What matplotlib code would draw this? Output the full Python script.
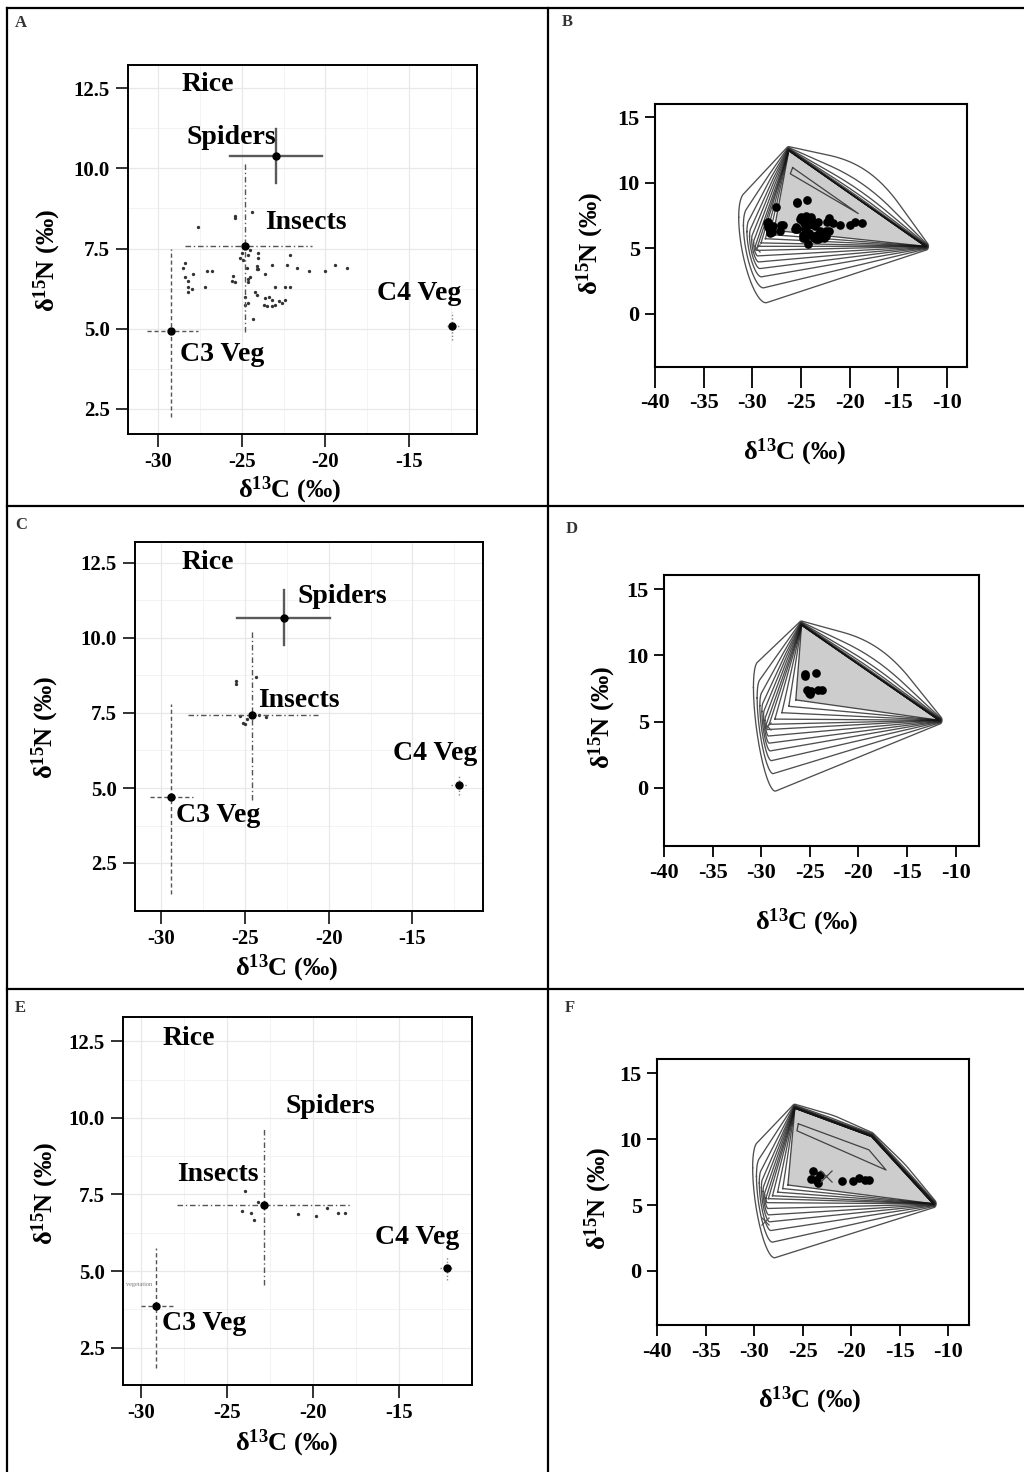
import numpy as np
import matplotlib
matplotlib.use('Agg')
import matplotlib.pyplot as plt
from matplotlib.lines import Line2D

plt.rcParams['font.family'] = ['Liberation Serif', 'DejaVu Serif']
plt.rcParams['font.weight'] = 'bold'
plt.rcParams['mathtext.fontset'] = 'custom'
plt.rcParams['mathtext.rm'] = 'Liberation Serif:bold'
plt.rcParams['mathtext.it'] = 'Liberation Serif:italic:bold'
plt.rcParams['mathtext.bf'] = 'Liberation Serif:bold'

W, H = 1024, 1472

# ---------------- data ----------------
# insects, site 1 (panels A and B)
ins1_x = [-25.4, -25.4, -24.4, -27.6, -28.4, -28.5, -28.4, -28.2, -28.2, -28.0, -28.2,
          -27.9, -27.1, -26.8, -27.2, -25.6, -25.5, -25.4, -25.0, -25.1, -24.9, -24.6,
          -24.5, -24.7, -24.6, -24.5, -24.6, -24.1, -24.1, -24.0, -24.0, -24.0, -23.6,
          -23.2, -24.8, -24.8, -24.6, -24.2, -24.1, -23.6, -23.4, -23.2, -23.7, -23.5,
          -23.2, -23.0, -22.8, -22.6, -22.4, -23.0, -22.4, -22.1, -22.3, -22.1, -21.7,
          -21.0, -20.0, -19.4, -18.7, -24.3]
ins1_y = [8.5, 8.45, 8.65, 8.18, 7.04, 6.9, 6.6, 6.5, 6.3, 6.25, 6.15,
          6.7, 6.8, 6.8, 6.3, 6.5, 6.65, 6.45, 7.35, 7.2, 7.15, 7.3,
          7.45, 6.9, 6.55, 6.6, 6.45, 6.95, 6.85, 6.85, 7.35, 7.2, 6.7,
          7.0, 6.0, 5.75, 5.8, 6.15, 6.05, 5.95, 6.0, 5.9, 5.75, 5.7,
          5.72, 5.75, 5.85, 5.8, 5.9, 6.3, 6.3, 6.3, 7.0, 7.3, 6.9,
          6.8, 6.8, 7.0, 6.9, 5.3]
# insects, site 2 (panels C and D)
ins2_x = [-25.5, -25.5, -24.35, -25.1, -25.0, -24.85, -25.3, -24.15, -23.75]
ins2_y = [8.58, 8.48, 8.7, 7.15, 7.12, 7.3, 7.4, 7.42, 7.38]
# insects, site 3 (panels E and F)
ins3_x = [-23.95, -24.1, -23.45, -23.2, -23.6, -20.9, -19.85, -19.2, -18.55, -18.15]
ins3_y = [7.6, 6.95, 6.68, 7.25, 6.9, 6.85, 6.8, 7.05, 6.88, 6.9]

groups = ['Spiders', 'Insects', 'C3 Veg', 'C4 Veg']
# mean (d13C, d15N) and error bar ends per group; None = not shown
A_mean = [(-22.97, 10.39), (-24.81, 7.58), (-29.22, 4.93), (-12.41, 5.09)]
A_xbar = [(-25.7, -20.23), (-28.39, -20.82), (-30.67, -27.59), (-12.76, -11.87)]
A_ybar = [(9.53, 11.24), (4.91, 10.2), (2.26, 7.5), (4.65, 5.53)]
C_mean = [(-22.67, 10.67), (-24.6, 7.42), (-29.4, 4.7), (-12.22, 5.09)]
C_xbar = [(-25.49, -19.93), (-28.37, -20.63), (-30.66, -28.07), (-12.7, -11.75)]
C_ybar = [(9.76, 11.59), (4.59, 10.26), (1.48, 7.81), (4.76, 5.42)]
E_mean = [None, (-22.83, 7.15), (-29.09, 3.86), (-12.23, 5.11)]
E_xbar = [None, (-27.92, -17.75), (-29.96, -28.0), (-12.6, -11.8)]
E_ybar = [None, (4.54, 9.65), (1.83, 5.74), (4.7, 5.5)]

label_names = ['Rice', 'Spiders', 'Insects', 'C4 Veg', 'C3 Veg']
A_label_xy = [(-28.6, 12.6), (-28.3, 10.97), (-23.6, 8.3), (-16.9, 6.1), (-28.7, 4.2)]
C_label_xy = [(-28.77, 12.53), (-21.85, 11.37), (-24.2, 7.92), (-16.15, 6.15), (-29.1, 4.09)]
E_label_xy = [(-28.76, 12.6), (-21.57, 10.36), (-27.87, 8.16), (-16.4, 6.1), (-28.76, 3.3)]

# mixing polygon sources (TEF corrected): C3 first, then the upper chain
B_src = [(-29.6, 5.05), (-26.25, 12.45), (-12.2, 5.15)]
D_src = [(-29.4, 4.64), (-25.85, 12.3), (-11.7, 5.1)]
F_src = [(-28.7, 5.4), (-25.8, 12.35), (-17.9, 10.2), (-11.55, 5.1)]
# C3 source marks (x) drawn in the mixing plots
B_c3_mark = (-29.6, 5.05)
D_c3_mark = (-29.38, 4.64)
F_c3_mark = (-28.86, 3.82)
F_mix_mark = (-22.58, 7.23)
# C3 source spread (sd x, sd y, correlation)
B_c3_sd = (1.8, 4.2, -0.55)
D_c3_sd = (1.4, 4.9, -0.6)
F_c3_sd = (1.45, 4.4, -0.55)
# outward spread of the polygon edges at the outermost level (left edge, upper edges)
B_edge_spread = (1.8, 2.3)
D_edge_spread = (1.8, 2.0)
F_edge_spread = (1.4, 0.5)
# probability contour levels (negative = inside the mean polygon)
mix_levels = [-0.66, -0.5, -0.34, -0.18, -0.05, 0.05, 0.15, 0.26, 0.38, 0.53, 0.73, 1.0]


# ---------------- helpers ----------------
def convex_hull(P):
    P = np.unique(np.round(P, 6), axis=0)

    def cross(o, a, b):
        return (a[0] - o[0]) * (b[1] - o[1]) - (a[1] - o[1]) * (b[0] - o[0])
    lower, upper = [], []
    for p in P:
        while len(lower) >= 2 and cross(lower[-2], lower[-1], p) <= 0:
            lower.pop()
        lower.append(p)
    for p in P[::-1]:
        while len(upper) >= 2 and cross(upper[-2], upper[-1], p) <= 0:
            upper.pop()
        upper.append(p)
    h = np.array(lower[:-1] + upper[:-1])
    return np.vstack([h, h[:1]])


def edge_bulge(a, b, amount):
    t = np.linspace(0, 1, 40)
    d = b - a
    n = np.array([-d[1], d[0]]) / np.hypot(*d)
    return a + np.outer(t, d) + np.outer(amount * np.sin(np.pi * t), n)


def mix_contour(src, k, sd, spread, anchor_w, gain, cmean, tip=0.3):
    L = np.array(src[0])
    chain = np.array(src[1:])
    th = np.linspace(0, 2 * np.pi, 120, endpoint=False)
    kp = max(k, 0.0)
    pts = [v + kp * tip * np.c_[np.cos(th), np.sin(th)] for v in chain]
    sx, sy, rho = sd
    if k < 0:
        anchor = cmean + anchor_w * (chain[0] - cmean)
        pts.append((L + (-k) * gain * (anchor - L))[None])
    else:
        ex = sx * np.cos(th)
        ey = sy * (rho * np.cos(th) + np.sqrt(1 - rho ** 2) * np.sin(th))
        pts.append(L + k * np.c_[ex, ey])
        pts.append(edge_bulge(L, chain[0], spread[0] * kp))
    for a, b in zip(chain[:-1], chain[1:]):
        pts.append(edge_bulge(a, b, spread[1] * kp ** 2))
    return convex_hull(np.vstack(pts))


def sliver(src, s0, s1, d0, d1):
    chain = np.array(src[1:])
    seg = np.diff(chain, axis=0)
    lens = np.hypot(seg[:, 0], seg[:, 1])
    cum = np.r_[0, np.cumsum(lens)]

    def at(s, d):
        pos = s * cum[-1]
        i = int(np.clip(np.searchsorted(cum, pos) - 1, 0, len(seg) - 1))
        u = seg[i] / lens[i]
        return chain[i] + (pos - cum[i]) * u + d * np.array([u[1], -u[0]])
    ss = [s0] + [c / cum[-1] for c in cum[1:-1] if s0 < c / cum[-1] < s1] + [s1]
    pts = [at(s, d0) for s in ss] + [at(s0, d1), at(s0, d0)]
    return np.array(pts)


fig = plt.figure(figsize=(W / 100, H / 100), dpi=100)


def add_ax(l, r, t, b):
    return fig.add_axes([l / W, 1 - b / H, (r - l) / W, (b - t) / H])


def ftext(x, y, s, **kw):
    fig.text(x / W, 1 - y / H, s, **kw)


styles = {'Spiders': dict(ls='-', color='#5a5a5a', lw=1.7),
          'Insects': dict(ls=(0, (4, 2, 1, 2)), color='#555555', lw=1.0),
          'C3 Veg': dict(ls=(0, (3, 2)), color='#555555', lw=1.0),
          'C4 Veg': dict(ls=(0, (1, 1.5)), color='#888888', lw=1.0)}


def left_panel(box, xlim, ylim, means, xbars, ybars, ins_x, ins_y, label_xy):
    ax = add_ax(*box)
    ax.set_xlim(*xlim)
    ax.set_ylim(*ylim)
    for v in [-27.5, -22.5, -17.5, -12.5]:
        ax.axvline(v, color='#f3f3f3', lw=0.7, zorder=0)
    for v in [3.75, 6.25, 8.75, 11.25]:
        ax.axhline(v, color='#f3f3f3', lw=0.7, zorder=0)
    for v in [-30, -25, -20, -15]:
        ax.axvline(v, color='#e8e8e8', lw=0.9, zorder=0)
    for v in [2.5, 5, 7.5, 10, 12.5]:
        ax.axhline(v, color='#e8e8e8', lw=0.9, zorder=0)
    ax.plot(ins_x, ins_y, 'o', ms=2.4, color='#333333', mec='none', zorder=2)
    for g, m, xb, yb in zip(groups, means, xbars, ybars):
        if m is None:
            continue
        ax.plot(xb, [m[1], m[1]], zorder=3, **styles[g])
        ax.plot([m[0], m[0]], yb, zorder=3, **styles[g])
        ax.plot(*m, 'o', ms=5, color='black', zorder=4)
    for name, (x, y) in zip(label_names, label_xy):
        ax.text(x, y, name, fontsize=20, fontweight='bold', ha='left', va='center',
                color='black', zorder=5)
    ax.set_xticks([-30, -25, -20, -15])
    ax.set_xticklabels(['-30', '-25', '-20', '-15'])
    ax.set_yticks([2.5, 5, 7.5, 10, 12.5])
    ax.set_yticklabels(['2.5', '5.0', '7.5', '10.0', '12.5'])
    ax.tick_params(length=9, width=1.3, labelsize=15, pad=4, color='#222222')
    for sp in ax.spines.values():
        sp.set_linewidth(1.4)
    return ax


def right_panel(box, xlim, ylim, src, sd, spread, anchor_w, gain, cons_x, cons_y,
                c3_mark, slv=None, xtick_len=8, extra_mark=None):
    ax = add_ax(*box)
    ax.set_xlim(*xlim)
    ax.set_ylim(*ylim)
    cmean = np.array([np.mean(cons_x), np.mean(cons_y)])
    polys = [mix_contour(src, k, sd, spread, anchor_w, gain, cmean) for k in mix_levels]
    ax.fill(polys[0][:, 0], polys[0][:, 1], color='#cdcdcd', zorder=1, lw=0)
    for p in polys:
        ax.plot(p[:, 0], p[:, 1], color='#141414', lw=0.95, alpha=0.75, zorder=2)
    if slv is not None:
        s = sliver(src, *slv)
        ax.plot(s[:, 0], s[:, 1], color='#1e1e1e', lw=0.9, alpha=0.8, zorder=2)
    ax.plot(cons_x, cons_y, 'o', ms=5.2, color='black', zorder=4)
    ax.plot(*c3_mark, 'x', ms=6, mew=0.9, color='#555555', zorder=3)
    if extra_mark is not None:
        ax.plot(*extra_mark, 'x', ms=8, mew=0.9, color='#444444', zorder=5)
    ax.set_xticks([-40, -35, -30, -25, -20, -15, -10])
    ax.set_xticklabels(['-40', '-35', '-30', '-25', '-20', '-15', '-10'])
    ax.set_yticks([0, 5, 10, 15])
    ax.tick_params(axis='x', length=xtick_len, width=1.3, labelsize=16, pad=4)
    ax.tick_params(axis='y', length=7, width=1.3, labelsize=16, pad=4)
    for sp in ax.spines.values():
        sp.set_linewidth(1.5)
    return ax


left_panel((128, 477, 65, 434), (-31.8, -10.94), (1.72, 13.22),
           A_mean, A_xbar, A_ybar, ins1_x, ins1_y, A_label_xy)
left_panel((135, 483, 542, 911), (-31.55, -10.79), (0.9, 13.2),
           C_mean, C_xbar, C_ybar, ins2_x, ins2_y, C_label_xy)
axE = left_panel((123, 472, 1017, 1385), (-31.03, -10.77), (1.28, 13.29),
                 E_mean, E_xbar, E_ybar, ins3_x, ins3_y, E_label_xy)
axE.text(-30.87, 4.57, 'vegetation', fontsize=4.5, fontweight='normal',
         color='#777777', ha='left', va='center')

right_panel((655, 967, 104, 367), (-40, -7.94), (-4.05, 16.0), B_src, B_c3_sd,
            B_edge_spread, 0.3, 0.6, ins1_x, ins1_y, B_c3_mark,
            slv=(0.06, 0.54, 0.97, 1.5), xtick_len=15)
right_panel((664, 979, 575, 846), (-40, -7.6), (-4.41, 16.08), D_src, D_c3_sd,
            D_edge_spread, 0.0, 0.98, ins2_x, ins2_y, D_c3_mark)
right_panel((657, 969, 1059, 1325), (-40, -7.87), (-4.1, 16.08), F_src, F_c3_sd,
            F_edge_spread, 0.28, 0.55, ins3_x, ins3_y, F_c3_mark,
            slv=(0.04, 0.67, 1.05, 1.6), extra_mark=F_mix_mark)

# axis titles
xl = 'δ$^{13}$C (‰)'
yl = 'δ$^{15}$N (‰)'
for (x, y) in [(290, 490), (287, 968), (287, 1443), (795, 452), (807, 922), (810, 1400)]:
    ftext(x, y, xl, fontsize=19, fontweight='bold', ha='center', va='center')
for (x, y) in [(47, 260), (45, 727), (45, 1193), (590, 243), (602, 717), (598, 1198)]:
    ftext(x, y, yl, fontsize=19, fontweight='bold', ha='center', va='center', rotation=90)

# panel letters
for s, (x, y) in zip('ABCDEF', [(21, 23), (567, 22), (21, 525), (572, 529),
                                (20, 1008), (570, 1008)]):
    ftext(x, y, s, fontsize=12, fontweight='bold', ha='center', va='center', color='#333333')

# panel borders
for (x0, y0, x1, y1) in [(7, 8, 7, H), (548, 8, 548, H), (7, 8, W, 8),
                         (7, 506, W, 506), (7, 989, W, 989)]:
    fig.add_artist(Line2D([x0 / W, x1 / W], [1 - y0 / H, 1 - y1 / H],
                          transform=fig.transFigure, color='black', lw=1.6))

fig.savefig('out.png', dpi=100)
